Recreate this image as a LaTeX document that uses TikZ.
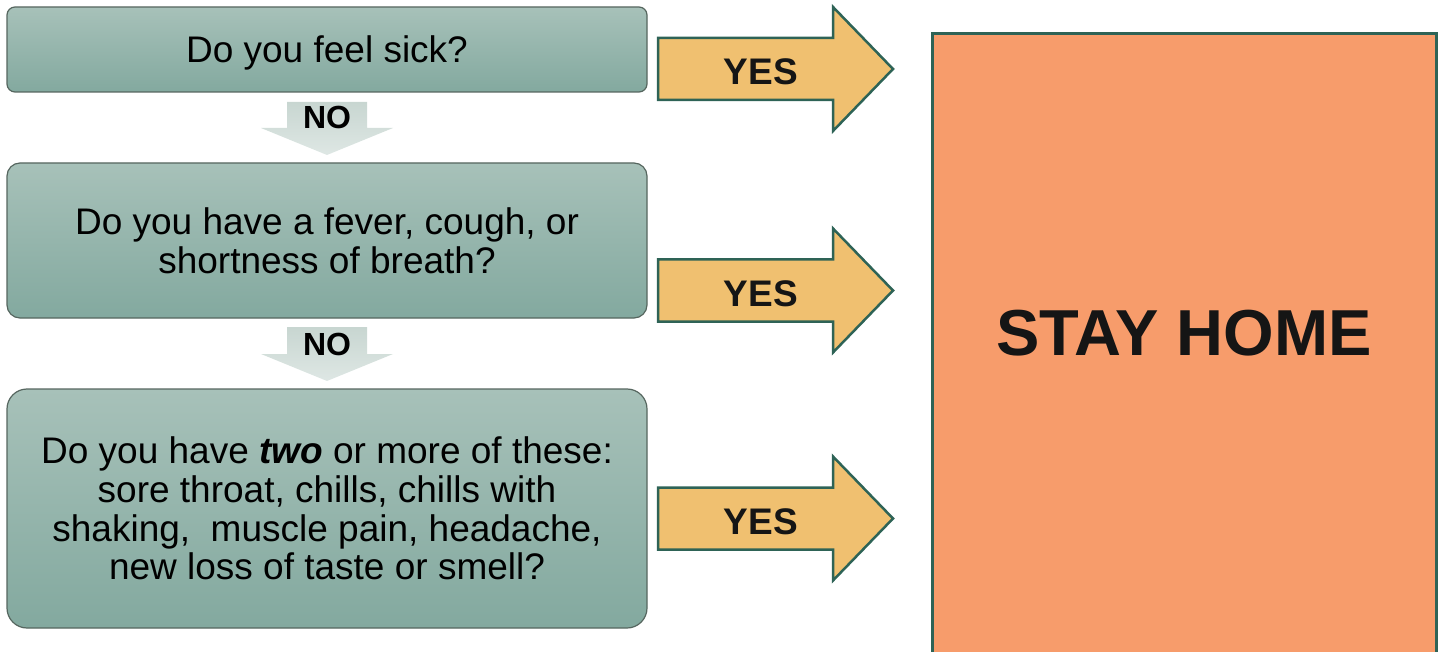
\documentclass[tikz,border=0pt]{standalone}
\usepackage{fontspec}
\setmainfont{Liberation Sans}
\usetikzlibrary{calc}
\definecolor{qtop}{HTML}{A7C1B9}
\definecolor{qbot}{HTML}{83A99F}
\definecolor{qline}{HTML}{56665F}
\definecolor{notop}{HTML}{C8D6D1}
\definecolor{nobot}{HTML}{DEE7E4}
\definecolor{yesfill}{HTML}{F0C070}
\definecolor{teal}{HTML}{2E6356}
\definecolor{homefill}{HTML}{F79C6B}
\definecolor{ink}{HTML}{151515}
\tikzset{
  qbox/.style={draw=qline, line width=1.2pt, top color=qtop, bottom color=qbot,
    minimum width=640pt, align=center, inner sep=0pt,
    font=\fontsize{37}{38.7}\selectfont, text=black},
  noshape/.style={top color=notop, bottom color=nobot, draw=none},
  nolabel/.style={font=\bfseries\fontsize{32}{32}\selectfont, text=black, anchor=base, inner sep=0pt},
  yesshape/.style={fill=yesfill, draw=teal, line width=2.5pt, line join=miter},
  yeslabel/.style={font=\bfseries\fontsize{37}{37}\selectfont, text=ink, anchor=base, inner sep=0pt},
}
\begin{document}
\begin{tikzpicture}[x=1pt,y=-1pt]
\useasboundingbox (0,0) rectangle (1440,652);
\clip (0,0) rectangle (1440,652);

% question boxes
\node[qbox, minimum height=85pt, rounded corners=8pt] (q1) at (327,49.5) {};
\node[font=\fontsize{37}{38.7}\selectfont, anchor=base, inner sep=0pt] (q1lbl) at (327,63) {Do you feel sick?};
\node[qbox, minimum height=155pt, rounded corners=13pt] (q2) at (327,240.5)
  {Do you have a fever, cough, or\\shortness of breath?};
\node[qbox, minimum height=239pt, rounded corners=20pt] (q3) at (327,508.5)
  {Do you have \textbf{\textit{two}} or more of these:\\sore throat, chills, chills with\\shaking,\ \ muscle pain, headache,\\new loss of taste or smell?};

% NO arrows
\path[noshape] (287,102)--(367,102)--(367,128)--(393,128)--(327,155)--(261,128)--(287,128)--cycle;
\node[nolabel] (no1) at (327,129) {NO};
\path[noshape] (287,327)--(367,327)--(367,354)--(393,354)--(327,381)--(261,354)--(287,354)--cycle;
\node[nolabel] (no2) at (327,355.5) {NO};

% STAY HOME box
\node[draw=teal, line width=3pt, fill=homefill, minimum width=504pt, minimum height=640pt,
  inner sep=0pt] (home) at (1184,354) {};
\node[font=\bfseries\fontsize{65}{65}\selectfont, text=ink, anchor=base, inner sep=0pt] (homelbl)
  at (1184,355) {STAY HOME};

% YES arrows
\foreach \c/\n in {69/1, 290.5/2, 518.5/3}{
  \path[yesshape] (658,\c-31)--(833,\c-31)--(833,\c-62)--(893,\c)--(833,\c+62)--(833,\c+31)--(658,\c+31)--cycle;
  \node[yeslabel] (yes\n) at (761,\c+16) {YES};
}
\end{tikzpicture}
\end{document}
